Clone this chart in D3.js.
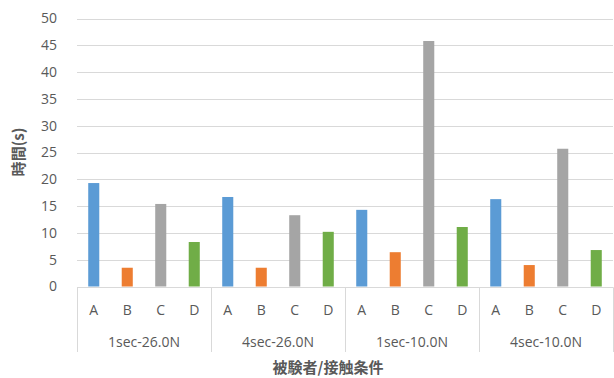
<!DOCTYPE html>
<html>
<head>
<meta charset="utf-8">
<script src="https://cdn.jsdelivr.net/npm/d3@7"></script>
<style>
  html, body { margin: 0; padding: 0; background: #fff; }
  svg { display: block; }
  text { font-family: "Open Sans", "Noto Sans", "Noto Sans CJK JP", sans-serif; }
</style>
</head>
<body>
<svg id="chart" width="614" height="378"></svg>
<script>
// Contact conditions (outer category level)
const conditions = ["1sec-26.0N", "4sec-26.0N", "1sec-10.0N", "4sec-10.0N"];
// Subjects (inner category level)
const subjects = ["A", "B", "C", "D"];
// Time in seconds, one value per condition for each subject
const timeA = [19.3, 16.7, 14.3, 16.3];
const timeB = [3.5, 3.5, 6.4, 4.0];
const timeC = [15.4, 13.3, 45.8, 25.7];
const timeD = [8.3, 10.2, 11.1, 6.8];
const subjectColors = ["#5b9bd5", "#ed7d31", "#a5a5a5", "#70ad47"];
const yTicks = [0, 5, 10, 15, 20, 25, 30, 35, 40, 45, 50];
const yTitle = "時間(s)";
const xTitle = "被験者/接触条件";

const series = [timeA, timeB, timeC, timeD];
const rows = [];
conditions.forEach((c, ci) => {
  subjects.forEach((s, si) => {
    rows.push({ cond: c, subj: s, value: series[si][ci], color: subjectColors[si] });
  });
});

const svg = d3.select("#chart");
const plotLeft = 77, plotRight = 613, plotTop = 18.5, plotBottom = 286.5;

const y = d3.scaleLinear().domain([0, 50]).range([plotBottom, plotTop]);
const xOuter = d3.scaleBand().domain(conditions).range([plotLeft, plotRight]).padding(0);
const xInner = d3.scaleBand().domain(subjects).range([0, xOuter.bandwidth()]).padding(0);
const barW = xInner.bandwidth() * 0.33;

const gridColor = "#d9d9d9";
const textColor = "#595959";

// Horizontal gridlines
svg.append("g")
  .selectAll("line")
  .data(yTicks.filter(t => t > 0))
  .join("line")
  .attr("x1", plotLeft).attr("x2", plotRight)
  .attr("y1", d => Math.round(y(d)) + 0.5).attr("y2", d => Math.round(y(d)) + 0.5)
  .attr("stroke", gridColor).attr("stroke-width", 1);

// Y axis labels
const yAxis = d3.axisLeft(y).tickValues(yTicks).tickSize(0).tickPadding(0);
const yg = svg.append("g").attr("transform", "translate(57,0)").call(yAxis);
yg.select(".domain").remove();
yg.selectAll("text")
  .attr("fill", textColor)
  .style("font-size", "14px")
  .style("font-family", "'Open Sans', 'Noto Sans', sans-serif");

// Bars
svg.append("g")
  .selectAll("rect")
  .data(rows)
  .join("rect")
  .attr("x", d => xOuter(d.cond) + xInner(d.subj) + (xInner.bandwidth() - barW) / 2)
  .attr("width", barW)
  .attr("y", d => y(d.value))
  .attr("height", d => y(0) - y(d.value))
  .attr("fill", d => d.color);

// Category axis: baseline and group separators
const axisG = svg.append("g");
axisG.append("line")
  .attr("x1", plotLeft).attr("x2", plotRight + 0.5)
  .attr("y1", Math.round(plotBottom) + 0.5).attr("y2", Math.round(plotBottom) + 0.5)
  .attr("stroke", gridColor);
const seps = conditions.map(c => xOuter(c)).concat([plotRight]);
axisG.selectAll("line.sep")
  .data(seps)
  .join("line")
  .attr("class", "sep")
  .attr("x1", d => Math.round(d) + 0.5).attr("x2", d => Math.round(d) + 0.5)
  .attr("y1", Math.round(plotBottom) + 0.5).attr("y2", 352)
  .attr("stroke", gridColor);

// Inner labels (subjects)
axisG.selectAll("text.inner")
  .data(rows)
  .join("text")
  .attr("class", "inner")
  .attr("x", d => xOuter(d.cond) + xInner(d.subj) + xInner.bandwidth() / 2)
  .attr("y", 310)
  .attr("dy", "0.35em")
  .attr("text-anchor", "middle")
  .attr("fill", textColor)
  .style("font-size", "14px")
  .text(d => d.subj);

// Outer labels (conditions)
axisG.selectAll("text.outer")
  .data(conditions)
  .join("text")
  .attr("class", "outer")
  .attr("x", d => xOuter(d) + xOuter.bandwidth() / 2)
  .attr("y", 342)
  .attr("dy", "0.35em")
  .attr("text-anchor", "middle")
  .attr("fill", textColor)
  .style("font-size", "14px")
  .text(d => d);

// Axis titles
svg.append("text")
  .attr("x", 328).attr("y", 368)
  .attr("dy", "0.35em")
  .attr("text-anchor", "middle")
  .attr("fill", textColor)
  .style("font-family", "'Noto Sans CJK JP', sans-serif")
  .style("font-size", "15px")
  .style("font-weight", "bold")
  .text(xTitle);

svg.append("text")
  .attr("transform", "translate(19,152) rotate(-90)")
  .attr("dy", "0.35em")
  .attr("text-anchor", "middle")
  .attr("fill", textColor)
  .style("font-family", "'Noto Sans CJK JP', sans-serif")
  .style("font-size", "15px")
  .style("font-weight", "bold")
  .text(yTitle);
</script>
</body>
</html>
